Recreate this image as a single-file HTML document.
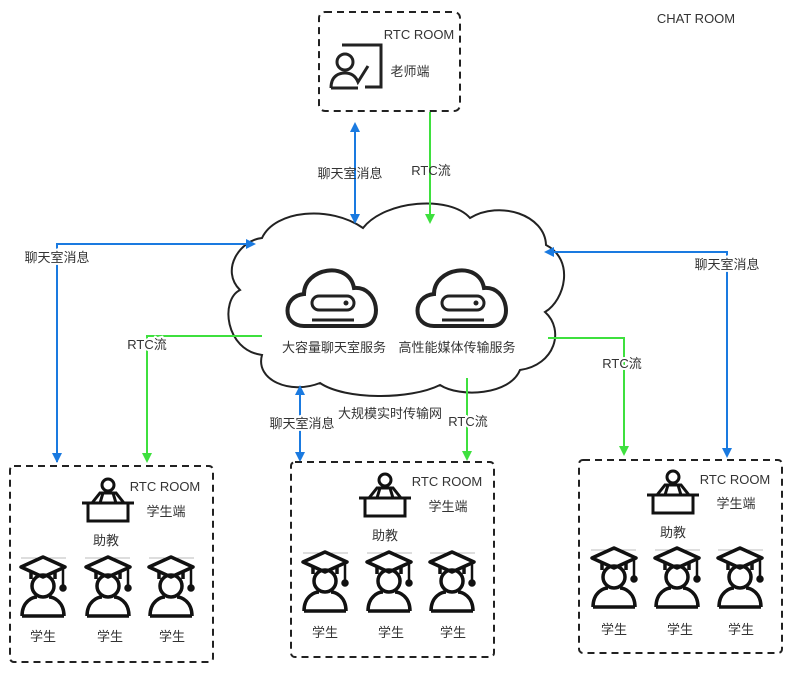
<!DOCTYPE html>
<html><head><meta charset="utf-8"><style>
html,body{margin:0;padding:0;background:#fff;}
svg text{font-family:"Liberation Sans","Noto Sans CJK SC",sans-serif;fill:#333;font-size:13px;}
</style></head><body>
<svg width="787" height="670" viewBox="0 0 787 670" xmlns="http://www.w3.org/2000/svg">
<defs>
<marker id="ab" markerWidth="10" markerHeight="10" refX="8" refY="5" orient="auto" markerUnits="userSpaceOnUse"><path d="M0,0 L10,5 L0,10 z" fill="#1a7ae0"/></marker>
<marker id="ag" markerWidth="10" markerHeight="10" refX="8" refY="5" orient="auto" markerUnits="userSpaceOnUse"><path d="M0,0 L10,5 L0,10 z" fill="#3ee03e"/></marker>
<marker id="abs" markerWidth="10" markerHeight="10" refX="2" refY="5" orient="auto" markerUnits="userSpaceOnUse"><path d="M10,0 L0,5 L10,10 z" fill="#1a7ae0"/></marker>
<g id="stu" fill="none" stroke="#111" stroke-width="3.5">
 <path d="M-22,-22 L0,-32 L22,-22 L0,-12 z" stroke-linejoin="round"/>
 <path d="M-12,-17 L-12,-10 M12,-17 L12,-10"/>
 <path d="M20,-21 L20,-2" stroke-width="2.5"/><circle cx="20" cy="-1" r="2" fill="#111"/>
 <circle cx="0" cy="-3" r="11"/>
 <path d="M-21,27 C-21,12 -10,8 -6,8 M21,27 C21,12 10,8 6,8 M-21,27 L21,27"/>
</g>
<g id="ta" fill="none" stroke="#111" stroke-width="3">
 <circle cx="0" cy="-20" r="6"/>
 <path d="M-16,-2 L-8,-12 L8,-12 L16,-2 M-5,-12 L-8,-2 M5,-12 L8,-2"/>
 <path d="M-26,-2 L26,-2 M-20,-2 L-20,16 L20,16 L20,-2"/>
</g>
<g id="cic" fill="none" stroke="#222" stroke-width="4">
 <path d="M-30,28 C-52,28 -52,-2 -30,-4 C-30,-30 15,-38 20,-10 C45,-12 50,28 28,28 Z"/>
 <rect x="-22" y="-2" width="42" height="14" rx="7" stroke-width="3"/>
 <circle cx="12" cy="5" r="2.5" fill="#222" stroke="none"/>
 <path d="M-22,22 L20,22" stroke-width="3"/>
</g>
</defs>

<text x="696" y="23" text-anchor="middle">CHAT ROOM</text>

<rect x="319" y="12" width="141" height="99" rx="6" fill="none" stroke="#222" stroke-width="2" stroke-dasharray="7,5"/>
<text x="419" y="39" text-anchor="middle">RTC ROOM</text>
<text x="410" y="76" text-anchor="middle">老师端</text>
<g fill="none" stroke="#222" stroke-width="3">
<path d="M342,45 L381,45 L381,87 L365,87"/>
<circle cx="345" cy="62" r="8"/>
<path d="M331,88 C331,75 340,73 345,73 C352,73 356,77 358,82 L368,66"/>
<path d="M331,88 L358,88"/>
</g>

<path d="M262,238 C275,210 330,205 363,228 C385,200 450,195 470,218 C500,200 545,215 546,245 C575,260 565,300 545,312 C565,330 555,365 520,370 C510,395 460,398 440,385 C410,400 345,400 320,383 C290,395 255,380 262,355 C225,350 220,300 240,290 C220,270 240,240 262,238 Z" fill="#fff" stroke="#222" stroke-width="2"/>
<use href="#cic" x="334" y="298"/>
<use href="#cic" x="464" y="298"/>
<text x="334" y="352" text-anchor="middle">大容量聊天室服务</text>
<text x="457" y="352" text-anchor="middle">高性能媒体传输服务</text>
<text x="390" y="418" text-anchor="middle">大规模实时传输网</text>

<line x1="355" y1="124" x2="355" y2="222" stroke="#1a7ae0" stroke-width="2" marker-start="url(#abs)" marker-end="url(#ab)"/>
<text x="350" y="178" text-anchor="middle">聊天室消息</text>
<line x1="430" y1="112" x2="430" y2="222" stroke="#3ee03e" stroke-width="2" marker-end="url(#ag)"/>
<text x="431" y="175" text-anchor="middle">RTC流</text>

<path d="M57,462 L57,244 L254,244" fill="none" stroke="#1a7ae0" stroke-width="2" marker-end="url(#ab)"/>
<line x1="57" y1="250" x2="57" y2="461" stroke="#1a7ae0" stroke-width="2" marker-end="url(#ab)"/>
<text x="57" y="262" text-anchor="middle" style="paint-order:stroke" stroke="#fff" stroke-width="4">聊天室消息</text>
<path d="M262,336 L147,336 L147,461" fill="none" stroke="#3ee03e" stroke-width="2" marker-end="url(#ag)"/>
<text x="147" y="349" text-anchor="middle" style="paint-order:stroke" stroke="#fff" stroke-width="4">RTC流</text>

<line x1="300" y1="460" x2="300" y2="387" stroke="#1a7ae0" stroke-width="2" marker-start="url(#abs)" marker-end="url(#ab)"/>
<text x="302" y="428" text-anchor="middle" style="paint-order:stroke" stroke="#fff" stroke-width="4">聊天室消息</text>
<line x1="467" y1="378" x2="467" y2="459" stroke="#3ee03e" stroke-width="2" marker-end="url(#ag)"/>
<text x="468" y="426" text-anchor="middle" style="paint-order:stroke" stroke="#fff" stroke-width="4">RTC流</text>

<path d="M727,456 L727,252 L546,252" fill="none" stroke="#1a7ae0" stroke-width="2" marker-end="url(#ab)"/>
<line x1="727" y1="260" x2="727" y2="456" stroke="#1a7ae0" stroke-width="2" marker-end="url(#ab)"/>
<text x="727" y="269" text-anchor="middle" style="paint-order:stroke" stroke="#fff" stroke-width="4">聊天室消息</text>
<path d="M548,338 L624,338 L624,454" fill="none" stroke="#3ee03e" stroke-width="2" marker-end="url(#ag)"/>
<text x="622" y="368" text-anchor="middle" style="paint-order:stroke" stroke="#fff" stroke-width="4">RTC流</text>

<rect x="10" y="466" width="203" height="196" rx="4" fill="none" stroke="#222" stroke-width="2" stroke-dasharray="7,5"/>
<text x="165" y="491" text-anchor="middle">RTC ROOM</text>
<text x="166" y="516" text-anchor="middle">学生端</text>
<use href="#ta" x="108" y="505"/>
<text x="106" y="545" text-anchor="middle">助教</text>
<path d="M21,558 L66,558 M85,558 L130,558 M149,558 L194,558" stroke="#bbb"/>
<use href="#stu" x="43" y="589"/><use href="#stu" x="108" y="589"/><use href="#stu" x="171" y="589"/>
<text x="43" y="641" text-anchor="middle">学生</text>
<text x="110" y="641" text-anchor="middle">学生</text>
<text x="172" y="641" text-anchor="middle">学生</text>

<rect x="291" y="462" width="203" height="195" rx="4" fill="none" stroke="#222" stroke-width="2" stroke-dasharray="7,5"/>
<text x="447" y="486" text-anchor="middle">RTC ROOM</text>
<text x="448" y="511" text-anchor="middle">学生端</text>
<use href="#ta" x="385" y="500"/>
<text x="385" y="540" text-anchor="middle">助教</text>
<path d="M303,553 L348,553 M367,553 L412,553 M430,553 L475,553" stroke="#bbb"/>
<use href="#stu" x="325" y="584"/><use href="#stu" x="389" y="584"/><use href="#stu" x="452" y="584"/>
<text x="325" y="637" text-anchor="middle">学生</text>
<text x="391" y="637" text-anchor="middle">学生</text>
<text x="453" y="637" text-anchor="middle">学生</text>

<rect x="579" y="460" width="203" height="193" rx="4" fill="none" stroke="#222" stroke-width="2" stroke-dasharray="7,5"/>
<text x="735" y="484" text-anchor="middle">RTC ROOM</text>
<text x="736" y="508" text-anchor="middle">学生端</text>
<use href="#ta" x="673" y="497"/>
<text x="673" y="537" text-anchor="middle">助教</text>
<path d="M591,550 L636,550 M655,550 L700,550 M718,550 L763,550" stroke="#bbb"/>
<use href="#stu" x="614" y="580"/><use href="#stu" x="677" y="580"/><use href="#stu" x="740" y="580"/>
<text x="614" y="634" text-anchor="middle">学生</text>
<text x="680" y="634" text-anchor="middle">学生</text>
<text x="741" y="634" text-anchor="middle">学生</text>
</svg>
</body></html>
